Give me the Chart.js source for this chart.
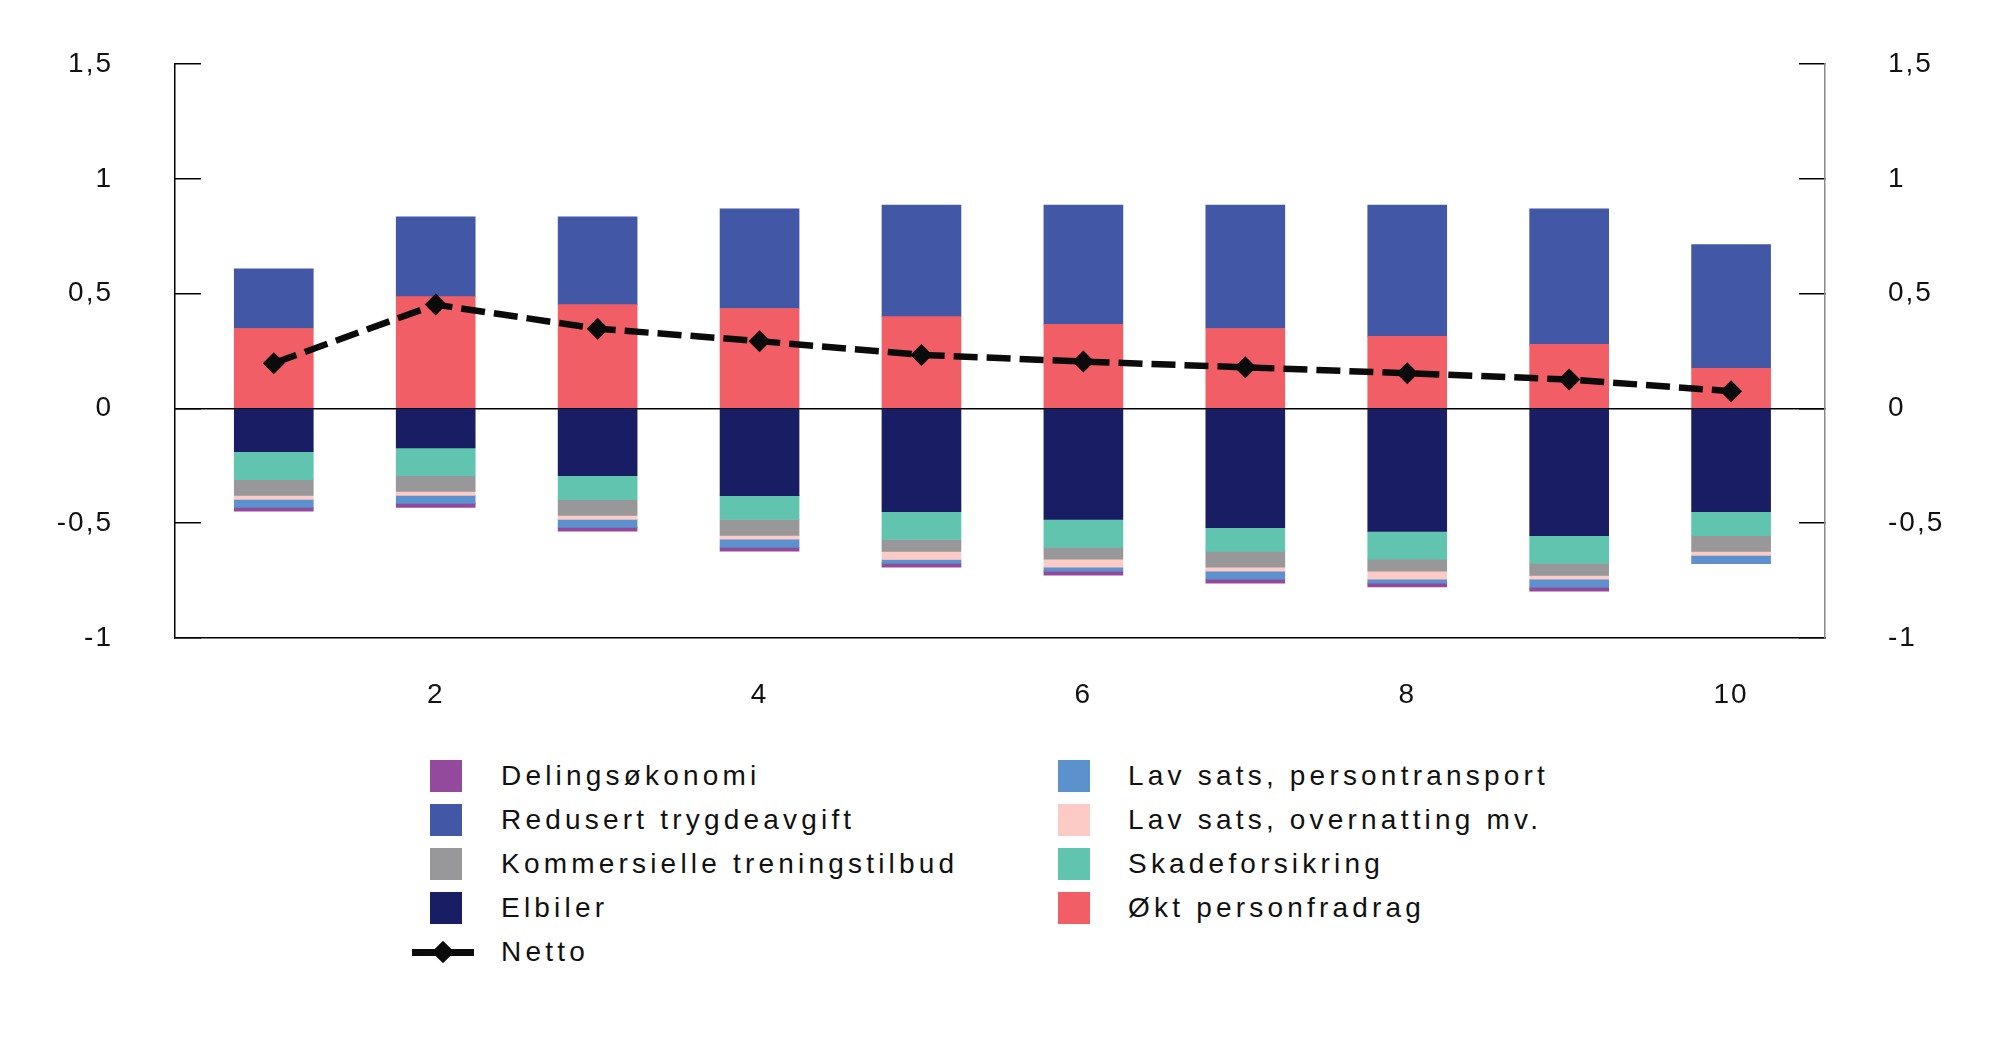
<!DOCTYPE html>
<html lang="no">
<head>
<meta charset="utf-8">
<script src="https://cdn.jsdelivr.net/npm/chart.js@4.4.1/dist/chart.umd.min.js"></script>
<style>
    body { margin: 0; background: #ffffff; }
    #ramme { position: relative; width: 2000px; height: 1044px; }
    #graf { position: absolute; left: 0; top: 0; }
    .tekst { position: absolute; font: 28px "Liberation Sans", Arial, sans-serif; letter-spacing: 4.2px; color: #111; line-height: 32px; white-space: nowrap; }
    .rute { position: absolute; width: 32px; height: 32px; }
</style>
</head>
<body>
<div id="ramme">
    <canvas id="graf" width="2000" height="740"></canvas>
    <div id="forklaring"></div>
</div>
<script>
const kategorier = [1, 2, 3, 4, 5, 6, 7, 8, 9, 10];
const xEtiketter = [2, 4, 6, 8, 10];
const yEtiketter = [-1, -0.5, 0, 0.5, 1, 1.5];

// positive bidrag
const personfradrag  = [0.348, 0.487, 0.452, 0.435, 0.400, 0.366, 0.348, 0.314, 0.279, 0.175];
const trygdeavgift   = [0.260, 0.347, 0.382, 0.434, 0.486, 0.520, 0.538, 0.572, 0.590, 0.538];

// negative bidrag (stables nedover fra null)
const elbiler         = [-0.189, -0.172, -0.293, -0.380, -0.450, -0.484, -0.519, -0.536, -0.554, -0.450];
const skadeforsikring = [-0.121, -0.121, -0.104, -0.104, -0.121, -0.121, -0.104, -0.121, -0.121, -0.104];
const trening         = [-0.069, -0.069, -0.069, -0.069, -0.052, -0.052, -0.069, -0.052, -0.052, -0.069];
const overnatting     = [-0.017, -0.017, -0.017, -0.017, -0.035, -0.035, -0.017, -0.035, -0.017, -0.017];
const persontransport = [-0.035, -0.035, -0.035, -0.035, -0.017, -0.017, -0.035, -0.017, -0.035, -0.035];
const delingsokonomi  = [-0.017, -0.017, -0.017, -0.017, -0.017, -0.017, -0.017, -0.017, -0.017, 0];

const netto = [0.197, 0.452, 0.347, 0.293, 0.233, 0.204, 0.179, 0.153, 0.126, 0.075];

const farger = {
    deling: "#944a9c",
    trygd: "#4257a6",
    trening: "#989799",
    elbil: "#191d63",
    transport: "#5b91cc",
    overnatting: "#fccbc5",
    skade: "#61c4ae",
    fradrag: "#f25e66"
};

const skrift = "'Liberation Sans', Arial, sans-serif";

function tilPunkter(verdier) {
    return kategorier.map((k, i) => ({ x: k, y: verdier[i] }));
}

function stolpe(navn, verdier, farge) {
    return {
        type: "bar",
        label: navn,
        data: tilPunkter(verdier),
        backgroundColor: farge,
        borderWidth: 0,
        barThickness: 79,
        xAxisID: "x",
        yAxisID: "y"
    };
}

const datasett = [
    {
        type: "line",
        label: "Netto",
        data: tilPunkter(netto),
        borderColor: "#0b0b0b",
        backgroundColor: "#0b0b0b",
        borderWidth: 6.5,
        borderDash: [24, 9],
        borderCapStyle: "butt",
        pointStyle: "rectRot",
        pointRadius: 11,
        pointBorderWidth: 0,
        tension: 0,
        xAxisID: "x",
        yAxisID: "y2"
    },
    stolpe("Elbiler", elbiler, farger.elbil),
    stolpe("Skadeforsikring", skadeforsikring, farger.skade),
    stolpe("Kommersielle treningstilbud", trening, farger.trening),
    stolpe("Lav sats, overnatting mv.", overnatting, farger.overnatting),
    stolpe("Lav sats, persontransport", persontransport, farger.transport),
    stolpe("Delingsøkonomi", delingsokonomi, farger.deling),
    stolpe("Økt personfradrag", personfradrag, farger.fradrag),
    stolpe("Redusert trygdeavgift", trygdeavgift, farger.trygd)
];

const yTekst = v => String(v).replace(".", ",");

// fast bredde på y-aksene, og ingen ekstra luft over/under fra tick-padding
function fastYAkse(s) {
    s.width = 175;
    s.paddingTop = 0;
    s.paddingBottom = 0;
}

// litt sperret skrift på aksetallene
const sperring = {
    id: "sperring",
    beforeDraw(chart) { chart.ctx.letterSpacing = "2px"; }
};

new Chart(document.getElementById("graf"), {
    data: { datasets: datasett },
    plugins: [sperring],
    options: {
        responsive: false,
        animation: false,
        layout: { padding: { top: 64, left: 0, right: 0, bottom: 0 } },
        plugins: {
            legend: { display: false },
            tooltip: { enabled: false }
        },
        scales: {
            x: {
                type: "linear",
                offset: false,
                stacked: true,
                min: 0.39,
                max: 10.58,
                afterBuildTicks: s => { s.ticks = xEtiketter.map(v => ({ value: v })); },
                afterFit: s => { s.height = 102; },
                grid: { display: false, drawTicks: false, offset: false },
                border: { display: true, color: "#000", width: 1.5 },
                ticks: {
                    padding: 40,
                    color: "#111",
                    maxRotation: 0,
                    autoSkip: false,
                    font: { family: skrift, size: 28 }
                }
            },
            y: {
                position: "left",
                stacked: true,
                min: -1,
                max: 1.5,
                afterBuildTicks: s => { s.ticks = yEtiketter.map(v => ({ value: v })); },
                afterFit: fastYAkse,
                grid: {
                    color: c => (c.tick && c.tick.value === 0) ? "#000" : "rgba(0,0,0,0)",
                    tickColor: "#000",
                    tickLength: -26,
                    lineWidth: 1.5
                },
                border: { color: "#000", width: 1.5 },
                ticks: {
                    padding: 88,
                    color: "#111",
                    font: { family: skrift, size: 28 },
                    callback: yTekst
                }
            },
            y2: {
                position: "right",
                stacked: false,
                min: -1,
                max: 1.5,
                afterBuildTicks: s => { s.ticks = yEtiketter.map(v => ({ value: v })); },
                afterFit: fastYAkse,
                grid: {
                    drawOnChartArea: false,
                    tickColor: "#000",
                    tickLength: -26,
                    lineWidth: 1.5
                },
                border: { color: "#8a8a8a", width: 1.5 },
                ticks: {
                    padding: 89,
                    color: "#111",
                    font: { family: skrift, size: 28 },
                    callback: yTekst
                }
            }
        }
    }
});

// forklaring i to kolonner under figuren
const kolonne1 = [
    ["Delingsøkonomi", farger.deling],
    ["Redusert trygdeavgift", farger.trygd],
    ["Kommersielle treningstilbud", farger.trening],
    ["Elbiler", farger.elbil],
    ["Netto", null]
];
const kolonne2 = [
    ["Lav sats, persontransport", farger.transport],
    ["Lav sats, overnatting mv.", farger.overnatting],
    ["Skadeforsikring", farger.skade],
    ["Økt personfradrag", farger.fradrag]
];

const forklaring = document.getElementById("forklaring");

function leggTil(liste, ruteX, tekstX) {
    liste.forEach(([navn, farge], i) => {
        const topp = 760 + i * 44;
        if (farge) {
            const r = document.createElement("div");
            r.className = "rute";
            r.style.left = ruteX + "px";
            r.style.top = topp + "px";
            r.style.background = farge;
            forklaring.appendChild(r);
        } else {
            const strek = document.createElement("div");
            strek.style.cssText = `position:absolute;left:${ruteX - 18}px;top:${topp + 13}px;width:62px;height:7px;background:#0b0b0b;`;
            forklaring.appendChild(strek);
            const ruter = document.createElement("div");
            ruter.style.cssText = `position:absolute;left:${ruteX + 5}px;top:${topp + 8}px;width:16px;height:16px;background:#0b0b0b;transform:rotate(45deg);`;
            forklaring.appendChild(ruter);
        }
        const t = document.createElement("div");
        t.className = "tekst";
        t.style.left = tekstX + "px";
        t.style.top = topp + "px";
        t.textContent = navn;
        forklaring.appendChild(t);
    });
}

leggTil(kolonne1, 430, 501);
leggTil(kolonne2, 1058, 1128);
</script>
</body>
</html>
